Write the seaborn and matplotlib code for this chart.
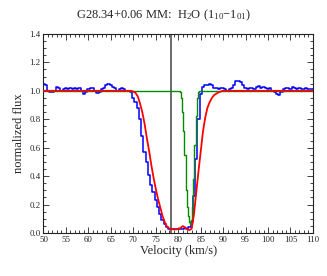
import numpy as np
import pandas as pd
import matplotlib
matplotlib.use("Agg")
import matplotlib.pyplot as plt
from matplotlib.ticker import MultipleLocator
import seaborn as sns

# Observed spectrum (blue), 0.5 km/s channels
blue_v = [50.0 + 0.5 * i for i in range(121)]
blue_f = [1.05, 1.04, 1.00, 0.99, 0.99, 1.00, 1.03, 1.02, 1.00, 1.01,
          1.02, 1.01, 1.02, 1.01, 1.02, 1.01, 1.02, 1.00, 0.98, 0.99,
          1.01, 1.02, 1.02, 1.00, 0.985, 0.99, 1.01, 1.02, 1.04, 1.05,
          1.04, 1.03, 1.02, 1.00, 1.01, 1.02, 1.01, 1.00, 1.00, 0.99,
          0.95, 0.92, 0.88, 0.80, 0.68, 0.57, 0.50, 0.41, 0.34, 0.29,
          0.23, 0.18, 0.13, 0.09, 0.06, 0.04, 0.03, 0.025, 0.025, 0.025,
          0.03, 0.03, 0.03, 0.035, 0.03, 0.04, 0.08, 0.26, 0.52, 0.80,
          0.98, 1.03, 1.04, 1.04, 1.05, 1.04, 1.02, 1.02, 1.01, 1.02,
          1.02, 1.01, 1.00, 1.01, 1.02, 1.04, 1.07, 1.07, 1.06, 1.04,
          1.02, 1.01, 1.02, 1.02, 1.01, 1.03, 1.035, 1.02, 1.03, 1.02,
          1.01, 1.02, 1.00, 0.99, 0.98, 0.97, 0.99, 1.01, 1.02, 1.02,
          1.01, 1.025, 1.02, 1.01, 1.02, 1.015, 1.01, 1.02, 1.01, 1.01,
          1.01]

# Model fit (red)
red_v = [50.0, 69.5, 70.0, 70.5, 71.0, 71.5, 72.0, 72.5, 73.0, 73.5, 74.0,
         74.5, 75.0, 75.5, 76.0, 76.5, 77.0, 77.5, 78.0, 78.5, 79.0, 79.5,
         80.0, 80.5, 81.0, 81.5, 82.0, 82.5, 83.0, 83.5, 84.0, 84.5, 85.0,
         85.5, 86.0, 86.5, 87.0, 87.5, 88.0, 88.5, 89.0, 89.5, 90.0, 110.0]
red_f = [1.0, 1.0, 0.995, 0.985, 0.96, 0.91, 0.85, 0.77, 0.67, 0.58, 0.48,
         0.39, 0.31, 0.24, 0.18, 0.12, 0.075, 0.045, 0.032, 0.027, 0.025, 0.025,
         0.027, 0.035, 0.048, 0.04, 0.025, 0.02, 0.03, 0.13, 0.28, 0.43, 0.57,
         0.71, 0.81, 0.88, 0.92, 0.95, 0.97, 0.98, 0.99, 0.995, 1.0, 1.0]

# Second model (green)
green_v = [50.0, 80.0, 80.25, 80.5, 80.75, 81.0, 81.25, 81.5, 81.75, 82.0,
           82.25, 82.5, 82.75, 83.0, 83.25, 83.5, 83.75, 84.0, 84.25, 84.5,
           84.75, 85.0, 110.0]
green_f = [1.0, 1.0, 1.0, 0.99, 0.95, 0.85, 0.72, 0.55, 0.30, 0.18,
           0.12, 0.08, 0.06, 0.09, 0.18, 0.38, 0.62, 0.82, 0.95, 0.99,
           1.0, 1.0, 1.0]

v_lsr = 78.5

sns.set_theme(style="ticks")
plt.rcParams['font.family'] = ['Liberation Serif', 'DejaVu Serif']
plt.rcParams['mathtext.fontset'] = 'custom'
plt.rcParams['mathtext.rm'] = 'Liberation Serif'
plt.rcParams['mathtext.it'] = 'Liberation Serif:italic'

fig = plt.figure(figsize=(3.27, 2.76), dpi=100)
ax = fig.add_axes([0.133, 0.156, 0.824, 0.721])

ax.axvline(v_lsr, color='#444444', lw=1.1, zorder=1)

df_b = pd.DataFrame({'v': blue_v, 'f': blue_f})
df_g = pd.DataFrame({'v': green_v, 'f': green_f})
df_r = pd.DataFrame({'v': red_v, 'f': red_f})

sns.lineplot(data=df_b, x='v', y='f', ax=ax, color='#0000ff', lw=1.1,
             drawstyle='steps-mid', estimator=None, sort=False, zorder=2)
sns.lineplot(data=df_g, x='v', y='f', ax=ax, color='#008c00', lw=1.0,
             drawstyle='steps-mid', estimator=None, sort=False, zorder=3)
sns.lineplot(data=df_r, x='v', y='f', ax=ax, color='#ff0000', lw=1.3,
             estimator=None, sort=False, zorder=4)

ax.set_xlim(50, 110)
ax.set_ylim(0, 1.4)
ax.xaxis.set_major_locator(MultipleLocator(5))
ax.xaxis.set_minor_locator(MultipleLocator(1))
ax.yaxis.set_major_locator(MultipleLocator(0.2))
ax.yaxis.set_minor_locator(MultipleLocator(0.05))
ax.yaxis.set_major_formatter(matplotlib.ticker.FormatStrFormatter('%.1f'))
ax.tick_params(which='both', direction='in', top=True, right=True,
               labelsize=6.3, pad=2, colors='#222222', width=0.6)
ax.tick_params(which='major', length=4.3)
ax.tick_params(which='minor', length=2.2)
for s in ax.spines.values():
    s.set_linewidth(0.8)
    s.set_color('#222222')

ax.set_xlabel('Velocity (km/s)', fontsize=9, labelpad=1)
ax.set_ylabel('normalized flux', fontsize=9, labelpad=3)
fig.text(0.5, 0.945, 'G28.34+0.06 MM:  H$_2$O (1$_{10}$$-$1$_{01}$)',
         fontsize=9, ha='center', va='center')

fig.savefig('out.png', dpi=100)
